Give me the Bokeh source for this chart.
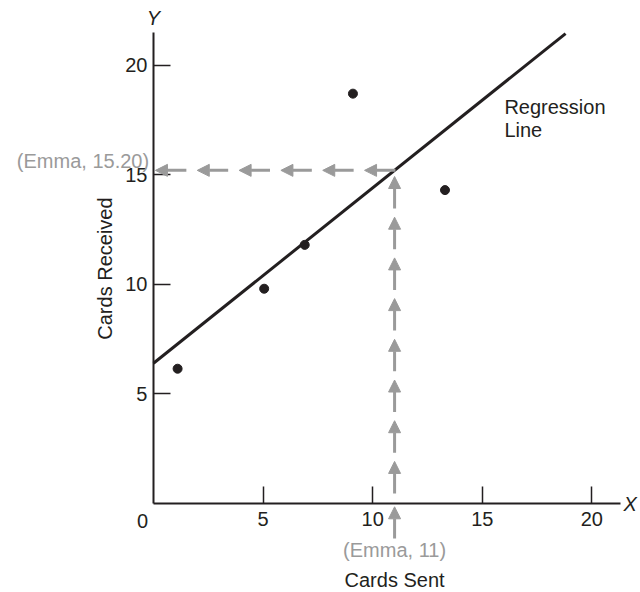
import numpy as np
from bokeh.plotting import figure
from bokeh.models import Label, Arrow, NormalHead
from bokeh.embed import file_html
from bokeh.resources import INLINE

# ---- data ----
cards_sent = [1.1, 5.05, 6.9, 9.1, 13.3]
cards_received = [6.15, 9.8, 11.8, 18.7, 14.3]
intercept = 6.4
slope = 0.8
line_x = [0.0, 18.8]
emma_x = 11
emma_y = 15.20
x_ticks = [5, 10, 15, 20]
y_ticks = [5, 10, 15, 20]

INK = "#231f20"
GRAY = "#9a9a9a"
FONT = "Liberation Sans"
FS = "20px"

p = figure(width=640, height=592, x_range=(-6.98, 22.22), y_range=(-4.06, 22.95),
           output_backend="svg", toolbar_location=None, min_border=0)
p.grid.visible = False
p.outline_line_color = None
p.background_fill_color = "white"

for ax, ticks, bnd in ((p.xaxis, x_ticks, (0, 21.3)), (p.yaxis, y_ticks, (0, 21.49))):
    ax.fixed_location = 0
    ax.bounds = bnd
    ax.ticker = ticks
    ax.major_tick_in = 17
    ax.major_tick_out = 0
    ax.minor_tick_line_color = None
    ax.axis_line_width = 2
    ax.axis_line_color = INK
    ax.major_tick_line_color = INK
    ax.major_tick_line_width = 1.5
    ax.major_label_text_font = FONT
    ax.major_label_text_font_size = FS
    ax.major_label_text_color = INK
p.xaxis.major_label_standoff = 8
p.yaxis.major_label_standoff = 6

# regression line
line_y = [intercept + slope * x for x in line_x]
p.line(line_x, line_y, line_width=3, line_color=INK)

# points
p.scatter(cards_sent, cards_received, size=9, color=INK)

# dashed arrows (vertical from X axis up to the line, horizontal to Y axis)
head_kw = dict(size=12, fill_color=GRAY, line_color=GRAY, line_width=1)
# arrow below the X axis
p.add_layout(Arrow(end=NormalHead(**head_kw), x_start=emma_x, y_start=-1.6,
                   x_end=emma_x, y_end=-0.15, line_color=GRAY, line_width=3))
# 8 arrows between the X axis and the regression line
tips = np.linspace(emma_y - 0.28, 1.92, 8)
for t in tips:
    p.add_layout(Arrow(end=NormalHead(**head_kw), x_start=emma_x, y_start=t - 1.46,
                       x_end=emma_x, y_end=t, line_color=GRAY, line_width=3))
# 6 arrows from the regression line to the Y axis
htips = np.linspace(emma_x - 1.37, 0.09, 6)
for t in htips:
    p.add_layout(Arrow(end=NormalHead(**head_kw), x_start=t + 1.41, y_start=emma_y,
                       x_end=t, y_end=emma_y, line_color=GRAY, line_width=3))

def lab(x, y, text, color=INK, align="center", angle=0.0, style="normal"):
    p.add_layout(Label(x=x, y=y, text=text, text_font=FONT, text_font_size=FS,
                       text_color=color, text_align=align, text_baseline="middle",
                       angle=angle, text_font_style=style))

lab(-0.5, -0.78, "0")
lab(0, 22.13, "Y", style="italic")
lab(21.45, 0, "X", align="left", style="italic")
lab(emma_x, -2.14, "(Emma, 11)", color=GRAY)
lab(emma_x, -3.50, "Cards Sent")
lab(-0.2, 15.65, "(Emma, 15.20)", color=GRAY, align="right")
lab(-2.19, 10.72, "Cards Received", angle=np.pi / 2)
lab(16.01, 18.07, "Regression", align="left")
lab(16.01, 17.06, "Line", align="left")

open("out.html", "w").write(file_html(p, INLINE))
